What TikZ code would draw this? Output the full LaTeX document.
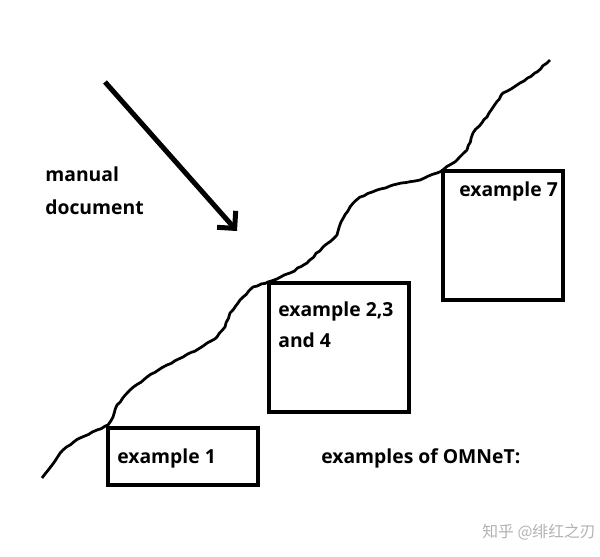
\documentclass[tikz,border=0pt]{standalone}
\usepackage{fontspec}
\setmainfont{Open Sans}
\newfontfamily\cjk{Noto Sans CJK SC}
\usetikzlibrary{arrows.meta,decorations.pathmorphing}

\begin{document}
\begin{tikzpicture}[
	x=0.02cm, y=-0.02cm,
	box/.style={ draw, line width=0.08cm },
	txt/.style={ anchor=base west, inner sep=0pt, font=\fontsize{11}{13}\selectfont\bfseries },
	ridge/.style={ line width=0.055cm, line join=round, decorate, decoration={ random steps, segment length=2.5pt, amplitude=0.35pt } },
	pointer/.style={ line width=0.1cm, -{Straight Barb[angle=90:10pt, line width=0.1cm]} }
]
\useasboundingbox (0,0) rectangle (600,556);
\pgfmathsetseed{11}

% the rough line
\draw[ridge] (42,478) -- (63,450) -- (80,438) -- (97,430) -- (108,425) -- (113,417) -- (117,405)
	-- (130,390) -- (147,377) -- (167,365) -- (183,357) -- (200,348) -- (217,337) -- (225,327)
	-- (230,313) -- (240,300) -- (253,287) -- (268,282) -- (290,273) -- (307,263) -- (323,247)
	-- (337,235) -- (341,222) -- (350,207) -- (360,197) -- (377,190) -- (393,185) -- (420,180)
	-- (437,173) -- (444,169) -- (457,160) -- (467,150) -- (473,133) -- (487,117) -- (503,93)
	-- (520,83) -- (537,72) -- (550,60);

% boxes
\draw[box] (108,428) rectangle (258,485);
\draw[box] (269,283) rectangle (409,412);
\draw[box] (443,171) rectangle (563,300);

% arrow
\coordinate (arrowtail) at (105,82);
\coordinate (arrowhead) at (237,231);
\draw[pointer] (arrowtail) -- (arrowhead);

% labels
\node[txt] (manual) at (45,181) {manual};
\node[txt] (document) at (45,214) {document};
\node[txt] (ex1) at (117,463) {example 1};
\node[txt] (ex234a) at (278,316) {example 2,3};
\node[txt] (ex234b) at (278,347) {and 4};
\node[txt] (ex7) at (459,196) {example 7};
\node[txt] (omnet) at (321,463) {examples of OMNeT:};
\node[anchor=base west, inner sep=0pt, text=black!30, font=\cjk\fontsize{9}{10}\selectfont] (mark) at (482,537) {知乎 @绯红之刃};

\end{tikzpicture}
\end{document}
